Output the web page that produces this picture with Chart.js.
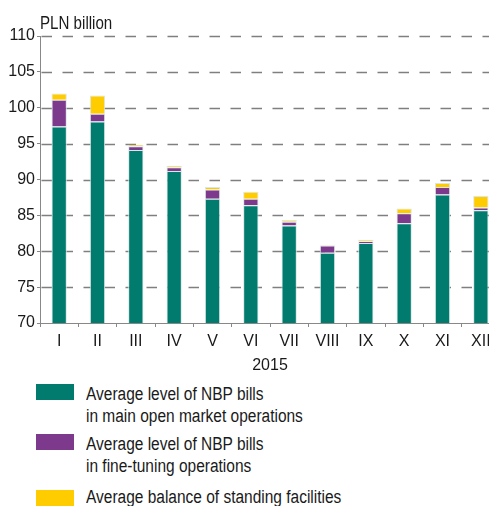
<!DOCTYPE html>
<html>
<head>
<meta charset="utf-8">
<script src="https://cdn.jsdelivr.net/npm/chart.js@4"></script>
<style>
  html, body { margin: 0; padding: 0; background: #fff; overflow: hidden; }
  body { width: 489px; height: 506px; position: relative; font-family: "Liberation Sans", Arial, sans-serif; color: #1a1a1a; }
  #wrap { position: absolute; left: 0; top: 0; width: 500px; height: 378px; }
  .sw { position: absolute; left: 36px; width: 38px; height: 16px; }
  .txt { position: absolute; left: 86px; font-size: 18px; line-height: 22px; white-space: nowrap; transform: scaleX(0.86); transform-origin: 0 0; }
</style>
</head>
<body>
<div id="wrap"><canvas id="chart"></canvas></div>

<div class="sw" style="top:384px;background:#007B6E"></div>
<div class="txt" style="top:383px">Average level of NBP bills<br>in main open market operations</div>
<div class="sw" style="top:434px;background:#7D3A8C"></div>
<div class="txt" style="top:433px">Average level of NBP bills<br>in fine-tuning operations</div>
<div class="sw" style="top:490px;background:#FFCC00"></div>
<div class="txt" style="top:486px">Average balance of standing facilities</div>

<script>
const months = ['I', 'II', 'III', 'IV', 'V', 'VI', 'VII', 'VIII', 'IX', 'X', 'XI', 'XII'];
const mainOps = [97.4, 98.1, 94.1, 91.2, 87.3, 86.4, 83.6, 79.8, 81.15, 83.9, 87.9, 85.7];
const fineTuning = [3.7, 1.05, 0.55, 0.5, 1.3, 0.9, 0.5, 1.0, 0.25, 1.4, 1.05, 0.4];
const standing = [0.9, 2.55, 0.2, 0.2, 0.36, 1.0, 0.25, 0.1, 0.2, 0.65, 0.55, 1.6];
const yTicks = [70, 75, 80, 85, 90, 95, 100, 105, 110];

const fontFamily = '"Liberation Sans", Arial, sans-serif';
const edge = 'rgba(215,228,228,0.9)';

// dashed horizontal grid + "PLN billion" unit label
const extras = {
  id: 'extras',
  beforeDatasetsDraw(chart) {
    const ctx = chart.ctx;
    const area = chart.chartArea;
    const y = chart.scales.y;
    ctx.save();
    ctx.strokeStyle = '#7f7f7f';
    ctx.lineWidth = 1.5;
    ctx.setLineDash([10.5, 10.5]);
    yTicks.forEach(v => {
      if (v === y.min) return;
      const py = Math.round(y.getPixelForValue(v)) + 0.5;
      ctx.beginPath();
      ctx.moveTo(area.left + 1.5, py);
      ctx.lineTo(area.right, py);
      ctx.stroke();
    });
    ctx.restore();
  },
  afterDraw(chart) {
    const ctx = chart.ctx;
    ctx.save();
    ctx.font = '18px ' + fontFamily;
    ctx.fillStyle = '#1a1a1a';
    ctx.textBaseline = 'alphabetic';
    ctx.translate(40, 29);
    ctx.scale(0.84, 1);
    ctx.fillText('PLN billion', 0, 0);
    ctx.restore();
  }
};

const ctx = document.getElementById('chart').getContext('2d');
new Chart(ctx, {
  type: 'bar',
  data: {
    labels: months,
    datasets: [
      { label: 'main', data: mainOps, backgroundColor: '#007B6E', borderColor: edge, borderWidth: 1 },
      { label: 'fine', data: fineTuning, backgroundColor: '#7D3A8C', borderColor: edge, borderWidth: 1 },
      { label: 'standing', data: standing, backgroundColor: '#FFCC00', borderColor: edge, borderWidth: 1 }
    ]
  },
  options: {
    responsive: true,
    maintainAspectRatio: false,
    animation: false,
    layout: { padding: { top: 36, right: 0, bottom: 0, left: 0 } },
    datasets: { bar: { categoryPercentage: 1, barPercentage: 0.4 } },
    plugins: { legend: { display: false }, tooltip: { enabled: false } },
    scales: {
      x: {
        stacked: true,
        afterFit(scale) { scale.height = 55; },
        grid: { drawOnChartArea: false, offset: true, tickLength: 4, color: '#888' },
        border: { color: '#888', width: 1 },
        ticks: { color: '#1a1a1a', padding: 5, font: { family: fontFamily, size: 16 } },
        title: { display: true, text: '2015', color: '#1a1a1a', padding: { top: 2, bottom: 3 }, font: { family: fontFamily, size: 16 } }
      },
      y: {
        stacked: true,
        min: 70,
        max: 110,
        afterFit(scale) { scale.width = 40; },
        afterBuildTicks(scale) { scale.ticks = yTicks.map(v => ({ value: v })); },
        grid: { drawOnChartArea: false, color: '#888', tickLength: 3 },
        border: { color: '#888', width: 1 },
        ticks: { color: '#1a1a1a', padding: 2, font: { family: fontFamily, size: 16 } }
      }
    }
  },
  plugins: [extras]
});
</script>
</body>
</html>
